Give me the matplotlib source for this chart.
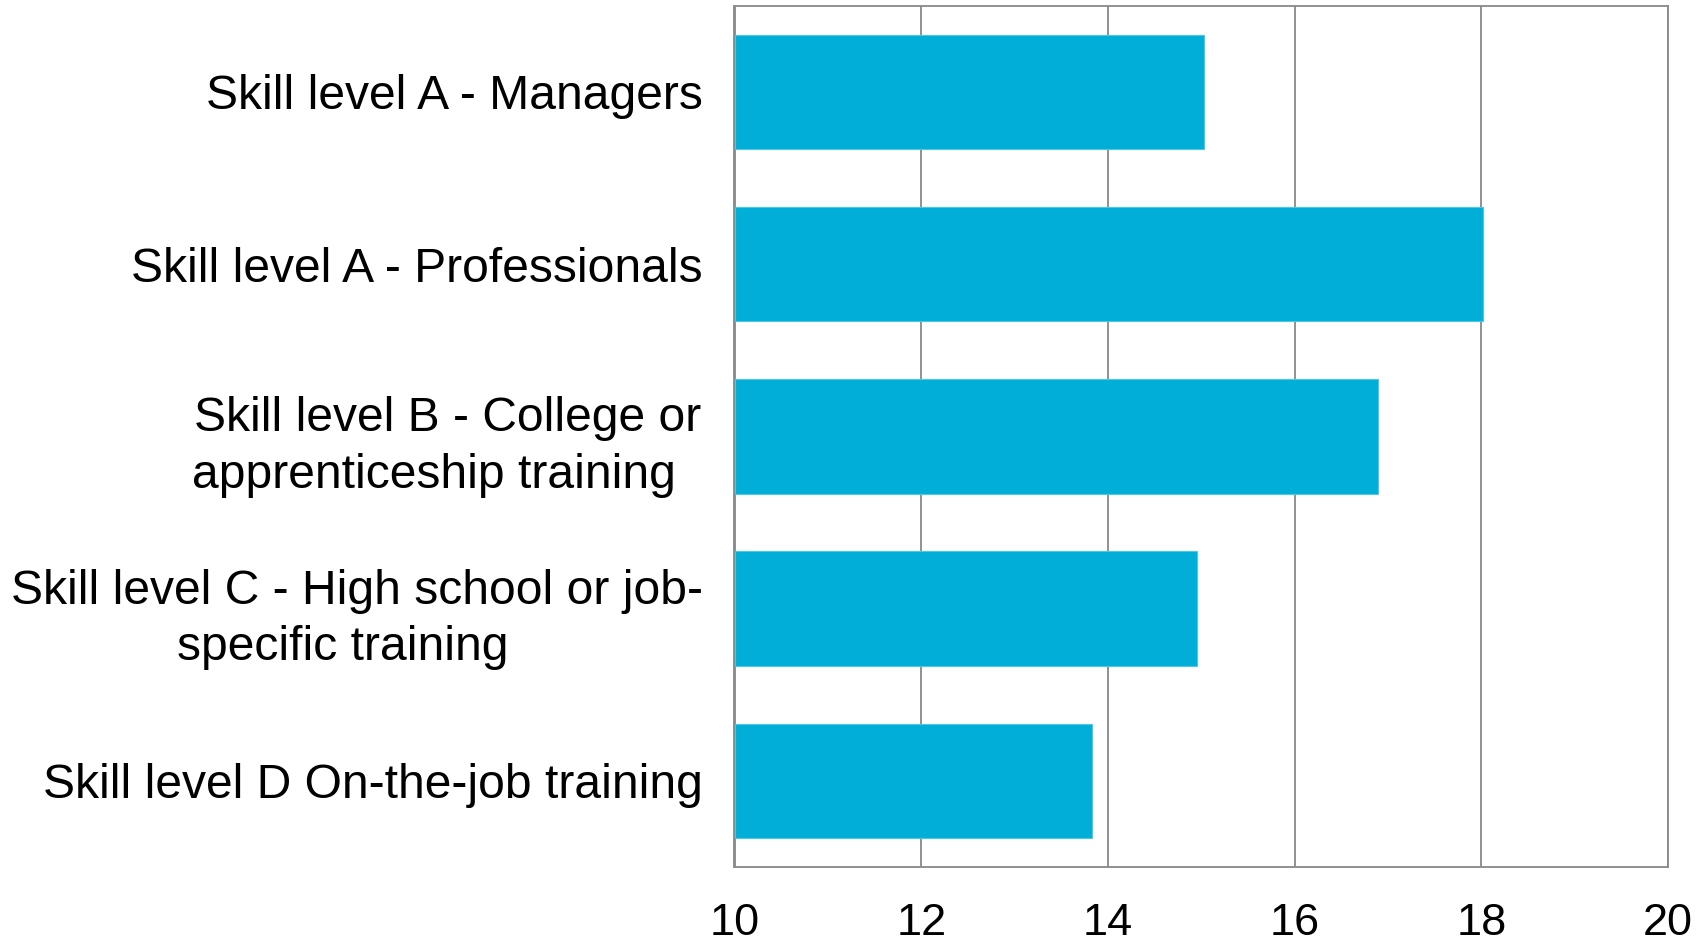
import matplotlib.pyplot as plt
import numpy as np

plt.rcParams['font.family'] = ['Liberation Sans', 'DejaVu Sans']

# Data (top to bottom)
categories = [
    "Skill level A - Managers",
    "Skill level A - Professionals",
    "Skill level B - College or\napprenticeship training  ",
    "Skill level C - High school or job-\nspecific training  ",
    "Skill level D On-the-job training",
]
values = [15.03, 18.02, 16.89, 14.95, 13.83]
xticks = [10, 12, 14, 16, 18, 20]

bar_color = '#00AED8'
grid_color = '#888888'

fig = plt.figure(figsize=(17.08, 9.44), dpi=100)
ax = fig.add_axes([734.5 / 1708, 1 - 867 / 944, (1668 - 734.5) / 1708, (867 - 5.7) / 944])

y_pos = np.arange(len(categories))
ax.barh(y_pos, np.array(values) - 10, left=10, height=0.665, color=bar_color,
        edgecolor='#4CC8E6', linewidth=0.8, zorder=2)

ax.set_yticks(y_pos)
ax.set_yticklabels(categories, fontsize=34.6, multialignment='center', linespacing=1.32)
ax.set_ylim(len(categories) - 0.5, -0.5)

ax.set_xlim(10, 20)
ax.set_xticks(xticks)
ax.set_xticklabels([str(t) for t in xticks], fontsize=32.5)

ax.tick_params(axis='y', length=0, pad=23)
ax.tick_params(axis='x', length=0, pad=26)

ax.grid(True, axis='x', color=grid_color, linewidth=1.3, zorder=0)
ax.set_axisbelow(True)
for side in ['top', 'bottom', 'left', 'right']:
    ax.spines[side].set_color(grid_color)
    ax.spines[side].set_linewidth(1.3)

plt.savefig('out.png', dpi=100, facecolor='white')
